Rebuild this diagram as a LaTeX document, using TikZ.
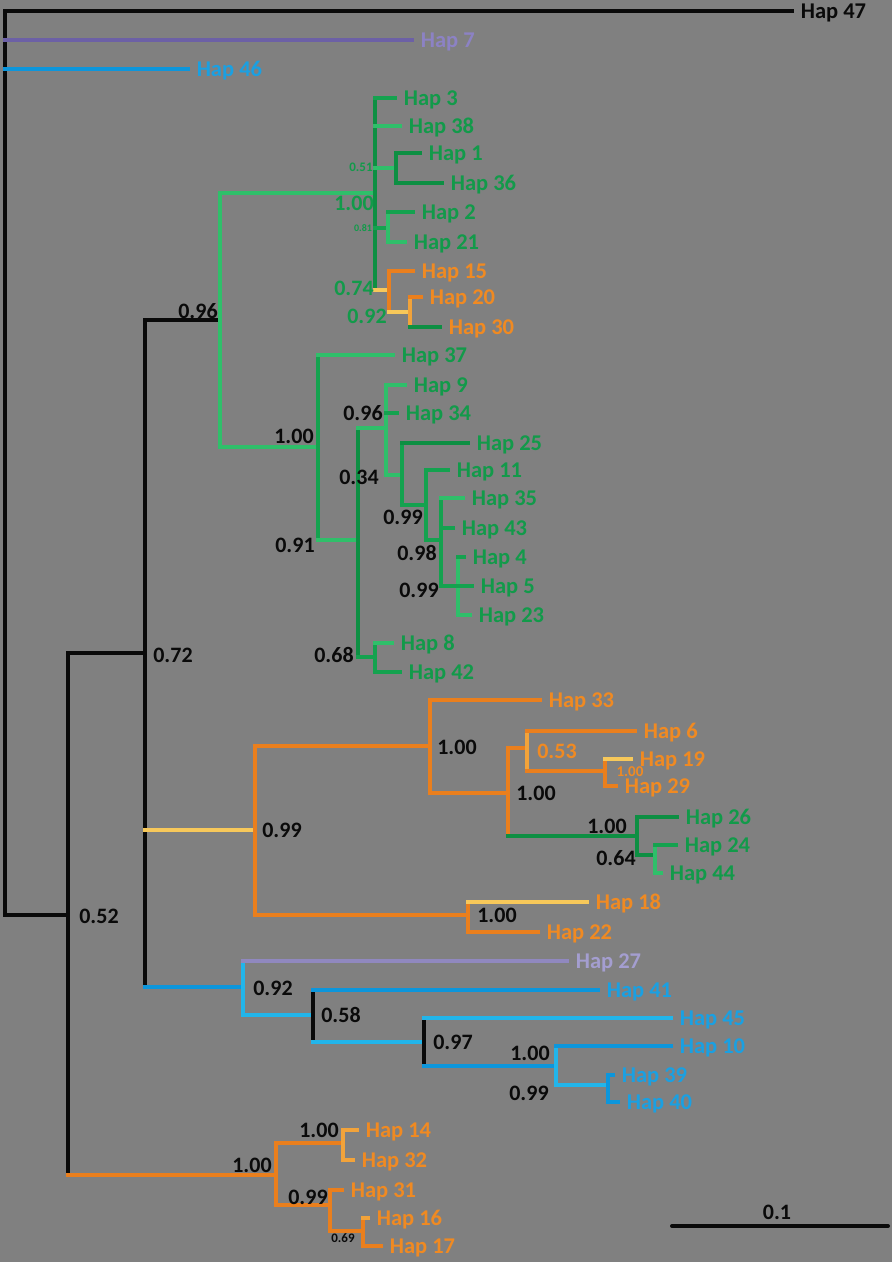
\documentclass[tikz,border=0pt]{standalone}
\usepackage{fontspec}
\setmainfont{Carlito}
\definecolor{bg}{HTML}{808080}
\definecolor{blk}{HTML}{0A0A0A}
\definecolor{dgreen}{HTML}{0D8F43}
\definecolor{grn}{HTML}{14A24F}
\definecolor{lgreen}{HTML}{2FBF6A}
\definecolor{tgreen}{HTML}{129A4A}
\definecolor{orng}{HTML}{EA7F1D}
\definecolor{lorng}{HTML}{F2A33A}
\definecolor{yel}{HTML}{F7C85A}
\definecolor{torng}{HTML}{F08A22}
\definecolor{blu}{HTML}{0C96DC}
\definecolor{lblu}{HTML}{22B5EA}
\definecolor{tblu}{HTML}{1AA0E2}
\definecolor{purp}{HTML}{6C60A6}
\definecolor{tpurp}{HTML}{8C82C4}
\definecolor{lav}{HTML}{9088BF}
\definecolor{tlav}{HTML}{A49ED0}
\newcommand\brc[3]{\draw[#1] (#2 |- #3) -- (#3);}
\newcommand\vlc[4]{\draw[#1] (#2 |- #3) -- (#2 |- #4);}
\begin{document}
\begin{tikzpicture}[x=1pt,y=-1pt,line width=3.6pt,line cap=rect,
  leaf/.style={anchor=west,inner xsep=7pt,inner ysep=0pt,text depth=0pt,font=\bfseries\fontsize{22.5}{22.5}\selectfont},
  bsup/.style={inner sep=0pt,font=\bfseries\fontsize{22}{22}\selectfont,text=blk},
  ssup/.style={inner sep=0pt,font=\bfseries\fontsize{13}{13}\selectfont,text=blk}]
\fill[bg] (0,0) rectangle (892,1262);
\useasboundingbox (0,0) rectangle (892,1262);
% internal nodes
\coordinate (R) at (5,463);
\coordinate (n68) at (68,915);
\coordinate (n145) at (145,653);
\coordinate (n220) at (220,320);
\coordinate (n375) at (375,193);
\coordinate (n396) at (396,168);
\coordinate (n388) at (388,228);
\coordinate (n389) at (389,290);
\coordinate (n410) at (410,312);
\coordinate (n318) at (318,447);
\coordinate (n358) at (358,540);
\coordinate (n386) at (386,428);
\coordinate (n402) at (402,475);
\coordinate (n426) at (426,505);
\coordinate (n441) at (441,540);
\coordinate (n458) at (458,586);
\coordinate (nB375) at (375,657);
\coordinate (n255) at (255,830);
\coordinate (n430) at (430,746);
\coordinate (n508) at (508,793);
\coordinate (n527) at (527,748);
\coordinate (n605) at (605,771);
\coordinate (n637) at (637,836);
\coordinate (n655) at (655,855);
\coordinate (n468) at (468,915);
\coordinate (n243) at (243,987);
\coordinate (n313) at (313,1015);
\coordinate (n424) at (424,1042);
\coordinate (n556) at (556,1066);
\coordinate (n608) at (608,1085);
\coordinate (n276) at (276,1175);
\coordinate (n343) at (343,1143);
\coordinate (n330) at (330,1205);
\coordinate (n363) at (363,1231);
% leaves
\node[leaf,text=blk] (h47) at (792,11) {Hap 47};
\node[leaf,text=tpurp] (h7) at (412,40) {Hap 7};
\node[leaf,text=tblu] (h46) at (188,69) {Hap 46};
\node[leaf,text=tgreen] (h3) at (395,98) {Hap 3};
\node[leaf,text=tgreen] (h38) at (400,126) {Hap 38};
\node[leaf,text=tgreen] (h1) at (420,153) {Hap 1};
\node[leaf,text=tgreen] (h36) at (442,183) {Hap 36};
\node[leaf,text=tgreen] (h2) at (413,212) {Hap 2};
\node[leaf,text=tgreen] (h21) at (405,242) {Hap 21};
\node[leaf,text=torng] (h15) at (413,271) {Hap 15};
\node[leaf,text=torng] (h20) at (421,297) {Hap 20};
\node[leaf,text=torng] (h30) at (440,327) {Hap 30};
\node[leaf,text=tgreen] (h37) at (393,355) {Hap 37};
\node[leaf,text=tgreen] (h9) at (405,385) {Hap 9};
\node[leaf,text=tgreen] (h34) at (397,413) {Hap 34};
\node[leaf,text=tgreen] (h25) at (468,443) {Hap 25};
\node[leaf,text=tgreen] (h11) at (448,470) {Hap 11};
\node[leaf,text=tgreen] (h35) at (463,498) {Hap 35};
\node[leaf,text=tgreen] (h43) at (453,528) {Hap 43};
\node[leaf,text=tgreen] (h4) at (464,557) {Hap 4};
\node[leaf,text=tgreen] (h5) at (472,586) {Hap 5};
\node[leaf,text=tgreen] (h23) at (470,615) {Hap 23};
\node[leaf,text=tgreen] (h8) at (392,643) {Hap 8};
\node[leaf,text=tgreen] (h42) at (400,672) {Hap 42};
\node[leaf,text=torng] (h33) at (540,700) {Hap 33};
\node[leaf,text=torng] (h6) at (635,731) {Hap 6};
\node[leaf,text=torng] (h19) at (631,759) {Hap 19};
\node[leaf,text=torng] (h29) at (616,786) {Hap 29};
\node[leaf,text=tgreen] (h26) at (677,817) {Hap 26};
\node[leaf,text=tgreen] (h24) at (676,845) {Hap 24};
\node[leaf,text=tgreen] (h44) at (661,873) {Hap 44};
\node[leaf,text=torng] (h18) at (587,902) {Hap 18};
\node[leaf,text=torng] (h22) at (538,932) {Hap 22};
\node[leaf,text=tlav] (h27) at (567,961) {Hap 27};
\node[leaf,text=tblu] (h41) at (598,990) {Hap 41};
\node[leaf,text=tblu] (h45) at (671,1018) {Hap 45};
\node[leaf,text=tblu] (h10) at (671,1046) {Hap 10};
\node[leaf,text=tblu] (h39) at (613,1075) {Hap 39};
\node[leaf,text=tblu] (h40) at (618,1102) {Hap 40};
\node[leaf,text=torng] (h14) at (357,1130) {Hap 14};
\node[leaf,text=torng] (h32) at (353,1160) {Hap 32};
\node[leaf,text=torng] (h31) at (342,1190) {Hap 31};
\node[leaf,text=torng] (h16) at (368,1218) {Hap 16};
\node[leaf,text=torng] (h17) at (381,1246) {Hap 17};
% branches
\vlc{blk}{R}{h47}{n68}
\brc{blk}{R}{h47}
\brc{purp}{R}{h7}
\brc{blu}{R}{h46}
\brc{blk}{R}{n68}
\vlc{blk}{n68}{n145}{n276}
\brc{blk}{n68}{n145}
\brc{orng}{n68}{n276}
\vlc{blk}{n145}{n220}{n243}
\brc{blk}{n145}{n220}
\brc{yel}{n145}{n255}
\brc{blu}{n145}{n243}
\vlc{lgreen}{n220}{n375}{n318}
\brc{lgreen}{n220}{n375}
\brc{lgreen}{n220}{n318}
\vlc{dgreen}{n375}{h3}{n389}
\brc{grn}{n375}{h3}
\brc{lgreen}{n375}{h38}
\brc{lgreen}{n375}{n396}
\brc{grn}{n375}{n388}
\brc{yel}{n375}{n389}
\vlc{dgreen}{n396}{h1}{h36}
\brc{dgreen}{n396}{h1}
\brc{dgreen}{n396}{h36}
\vlc{lgreen}{n388}{h2}{h21}
\brc{grn}{n388}{h2}
\brc{lgreen}{n388}{h21}
\vlc{orng}{n389}{h15}{n410}
\brc{orng}{n389}{h15}
\brc{yel}{n389}{n410}
\vlc{lorng}{n410}{h20}{h30}
\brc{orng}{n410}{h20}
\brc{dgreen}{n410}{h30}
\vlc{grn}{n318}{h37}{n358}
\brc{lgreen}{n318}{h37}
\brc{lgreen}{n318}{n358}
\vlc{dgreen}{n358}{n386}{nB375}
\brc{lgreen}{n358}{n386}
\brc{grn}{n358}{nB375}
\vlc{lgreen}{n386}{h9}{n402}
\brc{lgreen}{n386}{h9}
\brc{grn}{n386}{h34}
\brc{lgreen}{n386}{n402}
\vlc{grn}{n402}{h25}{n426}
\brc{dgreen}{n402}{h25}
\brc{grn}{n402}{n426}
\vlc{grn}{n426}{h11}{n441}
\brc{grn}{n426}{h11}
\brc{grn}{n426}{n441}
\vlc{grn}{n441}{h35}{n458}
\brc{lgreen}{n441}{h35}
\brc{grn}{n441}{h43}
\brc{grn}{n441}{n458}
\vlc{lgreen}{n458}{h4}{h23}
\brc{grn}{n458}{h4}
\brc{grn}{n458}{h5}
\brc{lgreen}{n458}{h23}
\vlc{grn}{nB375}{h8}{h42}
\brc{lgreen}{nB375}{h8}
\brc{grn}{nB375}{h42}
\vlc{orng}{n255}{n430}{n468}
\brc{orng}{n255}{n430}
\brc{orng}{n255}{n468}
\vlc{orng}{n430}{h33}{n508}
\brc{orng}{n430}{h33}
\brc{orng}{n430}{n508}
\vlc{orng}{n508}{n527}{n637}
\brc{orng}{n508}{n527}
\brc{dgreen}{n508}{n637}
\vlc{lorng}{n527}{h6}{n605}
\brc{orng}{n527}{h6}
\brc{orng}{n527}{n605}
\vlc{orng}{n605}{h19}{h29}
\brc{yel}{n605}{h19}
\brc{orng}{n605}{h29}
\vlc{dgreen}{n637}{h26}{n655}
\brc{dgreen}{n637}{h26}
\brc{dgreen}{n637}{n655}
\vlc{lgreen}{n655}{h24}{h44}
\brc{grn}{n655}{h24}
\brc{lgreen}{n655}{h44}
\vlc{orng}{n468}{h18}{h22}
\brc{yel}{n468}{h18}
\brc{orng}{n468}{h22}
\vlc{lblu}{n243}{h27}{n313}
\brc{lav}{n243}{h27}
\brc{lblu}{n243}{n313}
\vlc{blk}{n313}{h41}{n424}
\brc{blu}{n313}{h41}
\brc{lblu}{n313}{n424}
\vlc{blk}{n424}{h45}{n556}
\brc{lblu}{n424}{h45}
\brc{blu}{n424}{n556}
\vlc{lblu}{n556}{h10}{n608}
\brc{blu}{n556}{h10}
\brc{lblu}{n556}{n608}
\vlc{blu}{n608}{h39}{h40}
\brc{blu}{n608}{h39}
\brc{blu}{n608}{h40}
\vlc{orng}{n276}{n343}{n330}
\brc{orng}{n276}{n343}
\brc{orng}{n276}{n330}
\vlc{lorng}{n343}{h14}{h32}
\brc{lorng}{n343}{h14}
\brc{lorng}{n343}{h32}
\vlc{orng}{n330}{h31}{n363}
\brc{orng}{n330}{h31}
\brc{orng}{n330}{n363}
\vlc{orng}{n363}{h16}{h17}
\brc{lorng}{n363}{h16}
\brc{orng}{n363}{h17}
% support values
\node[bsup] (s1) at (99,916) {0.52};
\node[bsup] (s2) at (173,655) {0.72};
\node[bsup] (s3) at (198,311) {0.96};
\node[bsup] (s4) at (294,436) {1.00};
\node[bsup] (s5) at (295,545) {0.91};
\node[ssup,text=tgreen] (s6) at (361,167) {0.51};
\node[bsup,text=tgreen] (s7) at (354,203) {1.00};
\node[ssup,text=tgreen,font=\bfseries\fontsize{10}{10}\selectfont] (s8) at (363,228) {0.81};
\node[bsup,text=tgreen] (s9) at (354,288) {0.74};
\node[bsup,text=tgreen] (s10) at (367,316) {0.92};
\node[bsup] (s11) at (363,413) {0.96};
\node[bsup] (s12) at (359,477) {0.34};
\node[bsup] (s13) at (403,517) {0.99};
\node[bsup] (s14) at (417,553) {0.98};
\node[bsup] (s15) at (419,590) {0.99};
\node[bsup] (s16) at (334,655) {0.68};
\node[bsup] (s17) at (457,747) {1.00};
\node[bsup,text=torng] (s18) at (557,751) {0.53};
\node[bsup,text=torng,font=\bfseries\fontsize{15}{15}\selectfont] (s19) at (630,772) {1.00};
\node[bsup] (s20) at (536,793) {1.00};
\node[bsup] (s21) at (607,826) {1.00};
\node[bsup] (s22) at (616,858) {0.64};
\node[bsup] (s23) at (282,830) {0.99};
\node[bsup] (s24) at (497,915) {1.00};
\node[bsup] (s25) at (273,988) {0.92};
\node[bsup] (s26) at (341,1015) {0.58};
\node[bsup] (s27) at (453,1042) {0.97};
\node[bsup] (s28) at (530,1053) {1.00};
\node[bsup] (s29) at (529,1093) {0.99};
\node[bsup] (s30) at (252,1165) {1.00};
\node[bsup] (s31) at (319,1130) {1.00};
\node[bsup] (s32) at (308,1197) {0.99};
\node[ssup] (s33) at (343,1238) {0.69};
% scale bar
\coordinate (sbL) at (672,1226);
\coordinate (sbR) at (888,1226);
\draw[blk,line width=4pt,line cap=round] (sbL) -- (sbR);
\node[bsup] (sbt) at (777,1212) {0.1};
\end{tikzpicture}
\end{document}
